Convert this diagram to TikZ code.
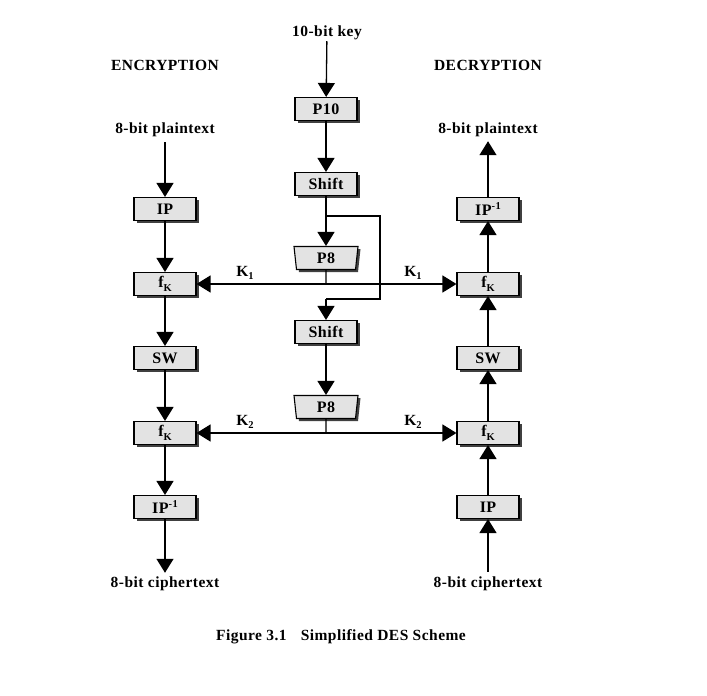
\documentclass[tikz,border=0pt]{standalone}
\usepackage{fontspec}
\setmainfont{Liberation Serif}[LetterSpace=3]
\usetikzlibrary{arrows.meta,shapes.geometric,shadows}
\newcommand\mysub[1]{\raisebox{-0.45ex}{\fontsize{10.5}{10.5}\selectfont #1}}
\newcommand\mysup[1]{\raisebox{0.75ex}{\fontsize{10.5}{10.5}\selectfont #1}}
\begin{document}
\begin{tikzpicture}[x=1pt,y=-1pt,
  every node/.style={font=\fontsize{15.5}{17}\selectfont\bfseries},
  boxnode/.style={draw=black, line width=1.1pt, fill=gray!22, minimum width=62pt, minimum height=23pt, inner sep=0pt,
    font=\fontsize{16}{17}\selectfont\bfseries,
    drop shadow={shadow xshift=2.5pt, shadow yshift=-2.5pt, fill=black!75, opacity=1}},
  trapnode/.style={boxnode, trapezium, shape border rotate=180, trapezium angle=77, trapezium stretches body, minimum width=64pt},
  lbl/.style={inner sep=1pt},
  conn/.style={line width=1.3pt},
  arr/.style={conn, -{Triangle[width=17pt,length=14pt]}}
]
\useasboundingbox (0,0) rectangle (707,696);

% center column
\node[lbl] (key) at (327,33) {10-bit key};
\node[boxnode] (p10) at (326,109) {P10};
\node[boxnode] (sh1) at (326,184) {Shift};
\node[trapnode] (p8a) at (326,258) {P8};
\node[boxnode] (sh2) at (326,332) {Shift};
\node[trapnode] (p8b) at (326,407) {P8};
\coordinate (k1) at (326,284);
\coordinate (k2) at (326,433);
\coordinate (b1) at (326,216);
\coordinate (b2) at (380,216);
\coordinate (b3) at (380,299);
\coordinate (b4) at (326,299);

% headings
\node[lbl] (enc) at (165,65) {ENCRYPTION};
\node[lbl] (dec) at (488,65) {DECRYPTION};

% left column
\node[lbl] (pt) at (165,130) {8-bit plaintext};
\node[boxnode] (ip) at (165,209) {IP};
\node[boxnode] (fk1) at (165,284) {f\mysub{K}};
\node[boxnode] (sw) at (165,358) {SW};
\node[boxnode] (fk2) at (165,433) {f\mysub{K}};
\node[boxnode] (ipi) at (165,507) {IP\mysup{-1}};
\node[lbl] (ct) at (165,584) {8-bit ciphertext};

% right column
\node[lbl] (dpt) at (488,130) {8-bit plaintext};
\node[boxnode] (dipi) at (488,209) {IP\mysup{-1}};
\node[boxnode] (dfk1) at (488,284) {f\mysub{K}};
\node[boxnode] (dsw) at (488,358) {SW};
\node[boxnode] (dfk2) at (488,433) {f\mysub{K}};
\node[boxnode] (dip) at (488,507) {IP};
\node[lbl] (dct) at (488,584) {8-bit ciphertext};

% key labels
\node[lbl] (lk1) at (245,273) {K\mysub{1}};
\node[lbl] (rk1) at (413,273) {K\mysub{1}};
\node[lbl] (lk2) at (245,422) {K\mysub{2}};
\node[lbl] (rk2) at (413,422) {K\mysub{2}};

% caption
\node[lbl] (cap) at (341,637) {Figure 3.1\hspace{14pt}Simplified DES Scheme};

% key schedule connectors
\draw[arr] (key) -- (p10);
\draw[arr] (p10) -- (sh1);
\draw[arr] (sh1) -- (p8a);
\draw[conn] (b1) -- (b2) -- (b3) -- (b4);
\draw[arr] (b4) -- (sh2);
\draw[arr] (sh2) -- (p8b);
\draw[conn] (p8a.south) -- (k1);
\draw[conn] (p8b.south) -- (k2);
\draw[arr] (k1) -- (fk1.east);
\draw[arr] (k1) -- (dfk1.west);
\draw[arr] (k2) -- (fk2.east);
\draw[arr] (k2) -- (dfk2.west);

% encryption
\draw[arr, shorten <=4pt] (pt) -- (ip);
\draw[arr] (ip) -- (fk1);
\draw[arr] (fk1) -- (sw);
\draw[arr] (sw) -- (fk2);
\draw[arr] (fk2) -- (ipi);
\draw[arr, shorten >=3pt] (ipi) -- (ct);

% decryption
\draw[arr, shorten <=4pt] (dct) -- (dip);
\draw[arr] (dip) -- (dfk2);
\draw[arr] (dfk2) -- (dsw);
\draw[arr] (dsw) -- (dfk1);
\draw[arr] (dfk1) -- (dipi);
\draw[arr, shorten >=3pt] (dipi) -- (dpt);
\end{tikzpicture}
\end{document}
